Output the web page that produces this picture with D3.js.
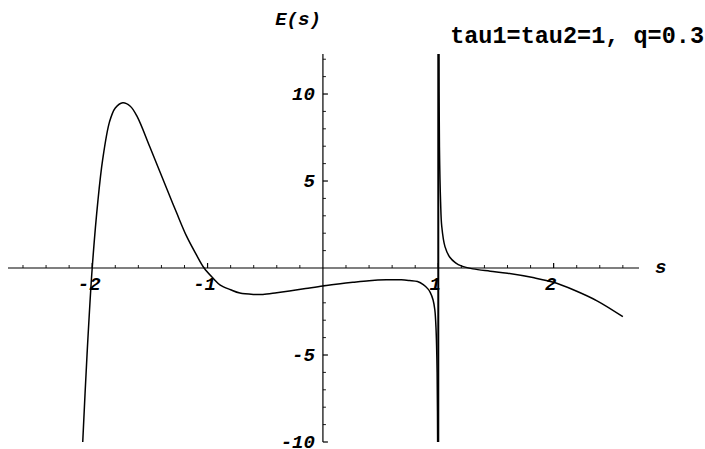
<!DOCTYPE html>
<html>
<head>
<meta charset="utf-8">
<script src="https://cdn.jsdelivr.net/npm/d3@7"></script>
<style>
  html, body { margin: 0; padding: 0; background: #fff; }
  svg { display: block; }
  .lbl { font-family: "Liberation Mono", "DejaVu Sans Mono", monospace; font-weight: bold; font-style: italic; }
</style>
</head>
<body>
<svg id="chart" width="705" height="449"></svg>
<script>
// Left branch of E(s), from below the frame up to the pole at s = 1
const leftS = [-2.085, -2.045, -2.0, -1.95, -1.91, -1.85, -1.80, -1.735, -1.67, -1.61, -1.50,
  -1.35, -1.27, -1.18, -1.10, -1.03, -0.95, -0.89, -0.80, -0.72, -0.60, -0.52, -0.40, -0.29, -0.15,
  0.0, 0.15, 0.26, 0.40, 0.55, 0.68, 0.75, 0.82, 0.87, 0.91, 0.93, 0.955, 0.97, 0.98, 0.99, 0.995];
const leftE = [-10.4, -5.0, 0.0, 3.9, 6.2, 8.4, 9.2, 9.5, 9.3, 8.7, 6.95,
  4.5, 3.2, 1.8, 0.8, 0.0, -0.6, -0.98, -1.25, -1.44, -1.52, -1.52, -1.42, -1.32, -1.18,
  -1.03, -0.9, -0.82, -0.73, -0.68, -0.68, -0.72, -0.78, -0.95, -1.2, -1.4, -1.84, -2.4, -3.4, -6.0, -11.0];

// Right branch, from the pole at s = 1 to the end of the sampled range
const rightS = [1.005, 1.01, 1.02, 1.03, 1.058, 1.10, 1.15, 1.20, 1.30, 1.45, 1.60, 1.82, 2.0, 2.17, 2.38, 2.60];
const rightE = [14.0, 7.0, 3.8, 2.4, 1.23, 0.62, 0.3, 0.12, -0.05, -0.18, -0.3, -0.55, -0.82, -1.25, -1.9, -2.8];

// Pole location
const poles = [1];

// Axis ticks
const xMajor = [-2, -1, 1, 2];
const xMinor = [-2.6, -2.4, -2.2, -1.8, -1.6, -1.4, -1.2, -0.8, -0.6, -0.4, -0.2, 0.2, 0.4, 0.6, 0.8,
  1.2, 1.4, 1.6, 1.8, 2.2, 2.4, 2.6];
const yMajor = [-10, -5, 5, 10];
const yMinor = [-9, -8, -7, -6, -4, -3, -2, -1, 1, 2, 3, 4, 6, 7, 8, 9, 11, 12];

const xDomain = [-2.73, 2.74];
const yDomain = [-10, 12.3];

const svg = d3.select("#chart");
const x = d3.scaleLinear().domain(xDomain).range([8, 639]);
const y = d3.scaleLinear().domain(yDomain).range([442, 54]);

svg.append("defs").append("clipPath").attr("id", "plotClip")
  .append("rect")
  .attr("x", x(xDomain[0])).attr("y", y(yDomain[1]))
  .attr("width", x(xDomain[1]) - x(xDomain[0]))
  .attr("height", y(yDomain[0]) - y(yDomain[1]));

// Axes through the origin
const ax = svg.append("g").attr("stroke", "#000").attr("stroke-width", 1.2);
ax.append("line").attr("x1", x(xDomain[0])).attr("x2", x(xDomain[1]))
  .attr("y1", y(0)).attr("y2", y(0));
ax.append("line").attr("x1", x(0)).attr("x2", x(0))
  .attr("y1", y(yDomain[0])).attr("y2", y(yDomain[1]));

// x ticks point upward
ax.selectAll(null).data(xMajor).join("line")
  .attr("x1", d => x(d)).attr("x2", d => x(d))
  .attr("y1", y(0)).attr("y2", y(0) - 5);
ax.selectAll(null).data(xMinor).join("line")
  .attr("stroke-width", 0.9)
  .attr("x1", d => x(d)).attr("x2", d => x(d))
  .attr("y1", y(0)).attr("y2", y(0) - 3);

// y ticks point right
ax.selectAll(null).data(yMajor).join("line")
  .attr("y1", d => y(d)).attr("y2", d => y(d))
  .attr("x1", x(0)).attr("x2", x(0) + 5);
ax.selectAll(null).data(yMinor).join("line")
  .attr("stroke-width", 0.9)
  .attr("y1", d => y(d)).attr("y2", d => y(d))
  .attr("x1", x(0)).attr("x2", x(0) + 3);

// Tick labels
const fmt = d => (d < 0 ? "-" : "") + Math.abs(d);
svg.selectAll(null).data(xMajor).join("text")
  .attr("class", "lbl")
  .attr("font-size", 19)
  .attr("text-anchor", "middle")
  .attr("x", d => x(d) - 3)
  .attr("y", y(0) + 22)
  .text(fmt);
svg.selectAll(null).data(yMajor).join("text")
  .attr("class", "lbl")
  .attr("font-size", 19)
  .attr("text-anchor", "end")
  .attr("x", x(0) - 8)
  .attr("y", d => y(d) + 6)
  .text(fmt);

// Axis labels and parameter note
svg.append("text").attr("class", "lbl").attr("font-size", 19)
  .attr("x", 655).attr("y", y(0) + 5).text("s");
svg.append("text").attr("class", "lbl").attr("font-size", 19)
  .attr("text-anchor", "middle")
  .attr("x", 298).attr("y", 25).text("E(s)");
svg.append("text")
  .attr("font-family", "'Liberation Mono', 'DejaVu Sans Mono', monospace")
  .attr("font-weight", "bold").attr("font-size", 23.5)
  .attr("text-anchor", "end")
  .attr("x", 704).attr("y", 43).text("tau1=tau2=1, q=0.3");

// Curve
const line = d3.line().x(d => x(d[0])).y(d => y(d[1]))
  .curve(d3.curveCatmullRom.alpha(0.5));
const plot = svg.append("g").attr("clip-path", "url(#plotClip)")
  .attr("fill", "none").attr("stroke", "#000").attr("stroke-width", 1.5)
  .attr("stroke-linejoin", "round");
plot.append("path").attr("d", line(d3.zip(leftS, leftE)));
plot.append("path").attr("d", line(d3.zip(rightS, rightE)));
plot.selectAll(null).data(poles).join("line")
  .attr("stroke-width", 2)
  .attr("x1", d => x(d)).attr("x2", d => x(d))
  .attr("y1", y(yDomain[0])).attr("y2", y(yDomain[1]) - 2);
</script>
</body>
</html>
